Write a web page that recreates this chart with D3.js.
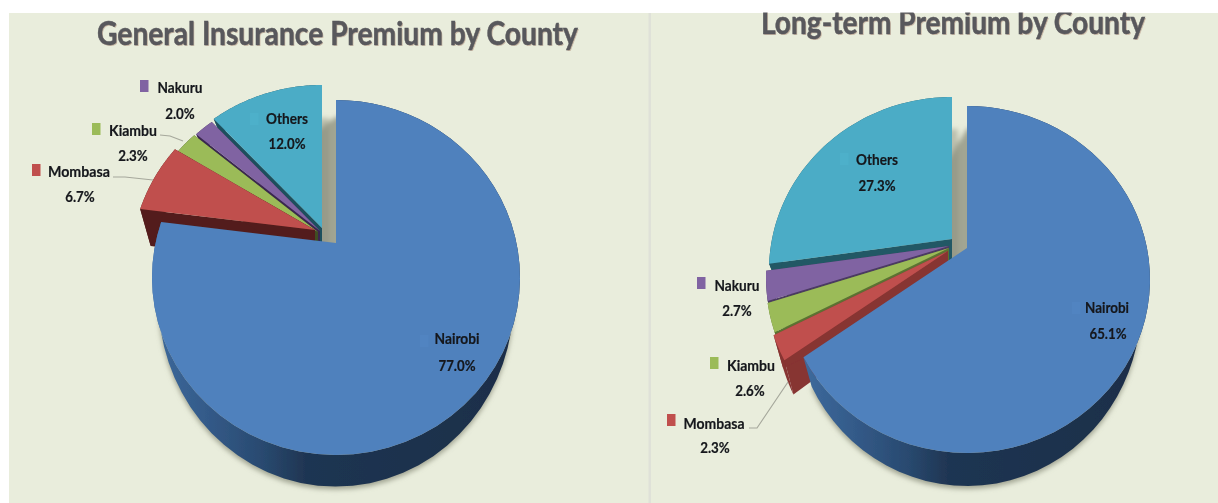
<!DOCTYPE html>
<html><head><meta charset="utf-8">
<script src="https://d3js.org/d3.v7.min.js"></script>
<style>
html,body{margin:0;padding:0;background:#fff;overflow:hidden}
text{font-family:Lato,"Open Sans",sans-serif;font-weight:700}
</style></head><body>
<script>
const categories = ["Nairobi","Mombasa","Kiambu","Nakuru","Others"];
const generalValues = [77.0,6.7,2.3,2.0,12.0];
const longTermValues = [65.1,2.3,2.6,2.7,27.3];
const generalLabels = ["77.0%","6.7%","2.3%","2.0%","12.0%"];
const longTermLabels = ["65.1%","2.3%","2.6%","2.7%","27.3%"];
const titles = ["General Insurance Premium by County","Long-term Premium by County"];
const faceColors = ["#4f81bd","#c0504d","#9bbb59","#8064a2","#4bacc6"];

const W=1218,H=503;
const svg=d3.select("body").append("svg").attr("width",W).attr("height",H);
const defs=svg.append("defs");
const soft=defs.append("filter").attr("id","soft")
  .attr("filterUnits","userSpaceOnUse").attr("x",0).attr("y",0).attr("width",W).attr("height",H);
soft.append("feGaussianBlur").attr("stdDeviation",0.55);
defs.append("filter").attr("id","sh").attr("x","-20%").attr("y","-20%").attr("width","140%").attr("height","140%")
  .append("feGaussianBlur").attr("stdDeviation",2.6);
const grad=defs.append("linearGradient").attr("id","blueWall");
[[0,"#3d6a9c"],[0.14,"#345b8a"],[0.3,"#294a70"],[0.42,"#1f3552"],[1,"#1b2e49"]].forEach(s=>
  grad.append("stop").attr("offset",s[0]).attr("stop-color",s[1]));

const root=svg.append("g").attr("filter","url(#soft)");
root.append("rect").attr("x",9).attr("y",13).attr("width",W-9).attr("height",H-13).attr("fill","#e9eddc");
root.append("rect").attr("x",648.5).attr("y",13).attr("width",2.5).attr("height",H-13).attr("fill","#dfe1d8");

const charts=[{
  values:generalValues,labels:generalLabels,title:titles[0],
  apex:[336,243],up:143,down:212,rx:184,drop:21,sx:.94,sxMain:.965,sy:1.05,
  explode:[[0,0],[-21,-13],[-18,-11],[-16,-12],[-14,-15]],
  extraDrop:[0,17,0,0,0],
  walls:["url(#blueWall)","#521d1c","#3f4d22","#3a2850","#1f4f5d"],
  shadow:[7,33],
  titleAt:[97,45,481],
  text:[[457,338,45,420,335],[79,171,62,32,164],[133,130,48,92,123],[180,87,45,140,80],[287,118,42,250,113]],
  valueAt:[[457,365],[80,196],[133,155],[180,113],[287,143]],
  leaders:[null,[[113,177],[125,177],[153,180]],[[160,135],[170,136],[183,141]],null,null]
},{
  values:longTermValues,labels:longTermLabels,title:titles[1],
  apex:[967,248],up:142,down:205,rx:183,drop:25,sx:.945,sxMain:.95,sy:1.039,
  explode:[[0,0],[-19,3],[-18,0],[-18,-2],[-15,-9]],
  extraDrop:[0,5,0,0,0],
  walls:["url(#blueWall)","#873433","#5c7233","#4b3a62","#215865"],
  shadow:[6,32],
  titleAt:[761,34,384],
  text:[[1107,307,44,1072,302],[714,423,61,667,414],[751,365,48,710,357],[737,285,45,697,277],[877,159,42,840,153]],
  valueAt:[[1108,333],[715,447],[750,390],[737,310],[877,185]],
  leaders:[null,[[749,428],[757,428],[788,382]],null,null,null]
}];

const pie=d3.pie().sort(null).value(d=>d).startAngle(0).endAngle(2*Math.PI);
const line=d3.line();

charts.forEach(c=>{
  const k=(c.down-c.up)/(c.down+c.up), a=c.up*(1+k), rxU=c.rx*Math.sqrt(1-k*k);
  // Projective mapping of the pie's disc: gives the tilted, perspective ellipse
  const top=(t,r,o)=>{const u=r*Math.sin(t),v=r*Math.cos(t),q=1+k*v;
    return [c.apex[0]+o[0]+rxU*u/q, c.apex[1]+o[1]-a*v/q];};
  const botFor=i=>(t,r,o)=>{const u=r*Math.sin(t),v=r*Math.cos(t),q=1+k*v;
    const sx=i===0?c.sxMain:c.sx;
    return [c.apex[0]+o[0]+sx*rxU*u/q, c.apex[1]+o[1]+c.drop+c.extraDrop[i]-c.sy*a*v/q];};
  const rim=(f,s,o)=>d3.range(0,61).map(i=>f(s.startAngle+(s.endAngle-s.startAngle)*i/60,1,o));
  const slices=pie(c.values);
  const g=root.append("g");
  // Soft cast shadow of the pie
  const shadowG=g.append("g").attr("filter","url(#sh)").attr("fill","#8f9280");
  const oth=slices[4], oO=c.explode[4];
  shadowG.append("path").attr("d",line([top(0,0,oO),...rim(top,oth,oO)])+"Z")
    .attr("transform",`translate(${c.shadow})`).attr("opacity",.5);
  shadowG.append("path").attr("d",line(rim(botFor(0),slices[0],[0,3]))+"Z").attr("opacity",.8);
  // Back to front: Others, Nakuru, Kiambu, Mombasa, Nairobi
  [4,3,2,1,0].forEach(i=>{
    const s=slices[i],o=c.explode[i],wall=c.walls[i],bot=botFor(i);
    const sg=g.append("g");
    const rt=rim(top,s,o),rb=rim(bot,s,o);
    const A=top(0,0,o),B=bot(0,0,o);
    if(i>0){
      sg.append("path").attr("d",line([A,rt[0],rb[0],B])+"Z").attr("fill",wall);
      sg.append("path").attr("d",line([A,rt[60],rb[60],B])+"Z").attr("fill",wall);
    }
    sg.append("path").attr("d",line([...rt,...rb.slice().reverse()])+"Z").attr("fill",wall);
    sg.append("path").attr("d",line([A,...rt])+"Z").attr("fill",faceColors[i]);
  });
  // Leader lines
  c.leaders.forEach(l=>{ if(l) g.append("path").attr("d",line(l)).attr("fill","none")
    .attr("stroke","#a6a89c").attr("stroke-width",1.2); });
  // Labels
  categories.forEach((name,i)=>{
    const t=c.text[i];
    g.append("rect").attr("x",t[3]).attr("y",t[4]).attr("width",8.5).attr("height",12)
      .attr("fill",d3.color(faceColors[i]).brighter(i===0||i===4?0.06:0));
    g.append("text").attr("x",t[0]).attr("y",t[1]+5.5).attr("text-anchor","middle")
      .attr("font-size",15.5).attr("fill","#14171b").attr("stroke","#14171b").attr("stroke-width",.2)
      .attr("textLength",t[2]).attr("lengthAdjust","spacingAndGlyphs").text(name);
    g.append("text").attr("x",c.valueAt[i][0]).attr("y",c.valueAt[i][1]+5.5).attr("text-anchor","middle")
      .attr("font-size",15.5).attr("fill","#14171b").attr("stroke","#14171b").attr("stroke-width",.2)
      .attr("textLength",c.labels[i].length*7.4).attr("lengthAdjust","spacingAndGlyphs").text(c.labels[i]);
  });
  // Title
  g.append("text").attr("x",c.titleAt[0]+1).attr("y",c.titleAt[1]+1)
    .attr("font-size",33).attr("fill","#b79a86").attr("opacity",.6)
    .attr("textLength",c.titleAt[2]).attr("lengthAdjust","spacingAndGlyphs").text(c.title);
  g.append("text").attr("x",c.titleAt[0]).attr("y",c.titleAt[1])
    .attr("font-size",33).attr("fill","#58585c").attr("stroke","#58585c").attr("stroke-width",.5)
    .attr("textLength",c.titleAt[2]).attr("lengthAdjust","spacingAndGlyphs").text(c.title);
});
// White margin that crops the top of the page, as in the source screenshot
svg.append("rect").attr("x",0).attr("y",0).attr("width",W).attr("height",12.5).attr("fill","#fff");
</script>
</body></html>
